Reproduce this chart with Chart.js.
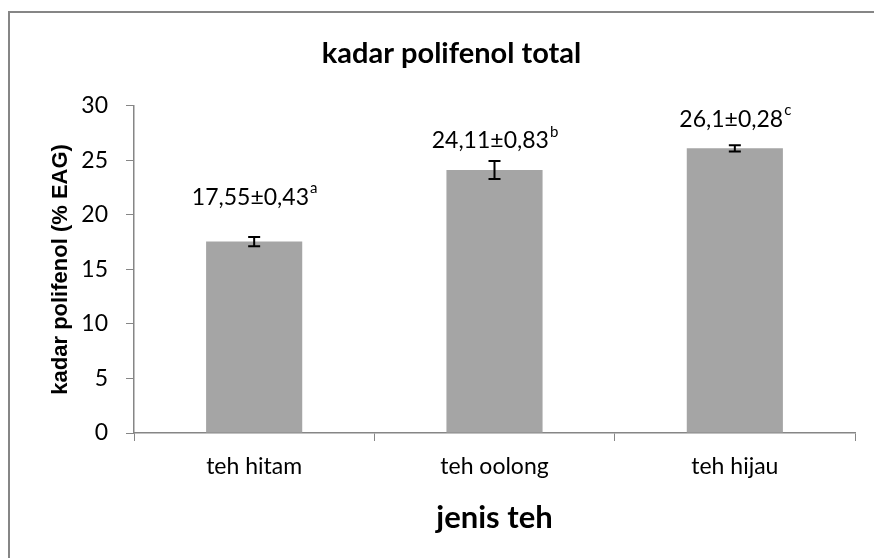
<!DOCTYPE html>
<html>
<head>
<meta charset="utf-8">
<script src="https://cdn.jsdelivr.net/npm/chart.js@4"></script>
<style>
html,body{margin:0;padding:0;background:#fff;}
#wrap{width:874px;height:558px;position:relative;}
</style>
</head>
<body>
<div id="wrap"><canvas id="chart" width="874" height="558"></canvas></div>
<script>

// data
const categories = ["teh hitam","teh oolong","teh hijau"]
const values = [17.55, 24.11, 26.1]
const errors = [0.43, 0.83, 0.28]
const labelText = ["17,55±0,43","24,11±0,83","26,1±0,28"]
const labelSup = ["a","b","c"]
const yTicks = [0,5,10,15,20,25,30]

// label lift above bar top (px)
const labelLift = [44, 29, 29]

const axisGray = "#868686"

/* frame round the whole chart */
const framePlugin = {
id:"frame",
beforeDraw(chart){
const c = chart.ctx
c.save()
c.fillStyle = "#fff"
c.fillRect(0,0,chart.width,chart.height)
c.strokeStyle = axisGray
c.lineWidth = 2
c.strokeRect(9,12,chart.width+10,chart.height+10)
c.restore()
}
}

/* error bars */
const errorPlugin = {
id:"errBars",
afterDatasetsDraw(chart){
const c = chart.ctx
const meta = chart.getDatasetMeta(0)
const y = chart.scales.y
c.save()
c.strokeStyle = "#000"
c.lineWidth = 2
meta.data.forEach((bar,i)=>{
const x = bar.x
const top = y.getPixelForValue(values[i]+errors[i])
const bot = y.getPixelForValue(values[i]-errors[i])
c.beginPath()
c.moveTo(x,top); c.lineTo(x,bot)
c.moveTo(x-6,top); c.lineTo(x+6,top)
c.moveTo(x-6,bot); c.lineTo(x+6,bot)
c.stroke()
})
c.restore()
}
}

/* value labels with superscript letters */
const labelPlugin = {
id:"valLabels",
afterDatasetsDraw(chart){
const c = chart.ctx
const meta = chart.getDatasetMeta(0)
const y = chart.scales.y
c.save()
c.fillStyle = "#000"
c.textBaseline = "middle"
meta.data.forEach((bar,i)=>{
const mainFont = "23px Lato"
const supFont = "15px Lato"
c.font = mainFont
const w1 = c.measureText(labelText[i]).width
c.font = supFont
const w2 = c.measureText(labelSup[i]).width
const yy = y.getPixelForValue(values[i]) - labelLift[i]
let x0 = bar.x - (w1+w2)/2
c.textAlign = "left"
c.font = mainFont
c.fillText(labelText[i], x0, yy)
c.font = supFont
c.fillText(labelSup[i], x0+w1+1, yy-9)
})
c.restore()
}
}

new Chart(document.getElementById("chart"),{

type:"bar",

data:{
labels:categories,
datasets:[{
data:values,
backgroundColor:"#a5a5a5",
categoryPercentage:0.4,
barPercentage:1
}]
},

options:{
responsive:false,
animation:false,
layout:{padding:{left:48,right:19,top:36,bottom:21}},
plugins:{
legend:{display:false},
tooltip:{enabled:false},
title:{
display:true,
text:"kadar polifenol total",
color:"#000",
font:{family:"Lato",size:29,weight:"bold"},
padding:{top:0,bottom:35}
}
},
scales:{
x:{
afterFit(axis){ axis.height = 104 },
grid:{drawOnChartArea:false,drawTicks:true,tickLength:8,color:axisGray,offset:true},
border:{color:axisGray,width:1.5},
ticks:{color:"#000",font:{family:"Lato",size:23},padding:12},
title:{display:true,text:"jenis teh",color:"#000",font:{family:"Lato",size:31,weight:"bold"},padding:{top:18,bottom:0}}
},
y:{
min:0,
max:30,
afterBuildTicks(axis){ axis.ticks = yTicks.map(v=>({value:v})) },
afterFit(axis){ axis.width = 86 },
grid:{drawOnChartArea:false,drawTicks:true,tickLength:8,color:axisGray},
border:{color:axisGray,width:1.5},
ticks:{color:"#000",font:{family:"Lato",size:23},padding:18},
title:{display:true,text:"kadar polifenol (% EAG)",color:"#000",font:{family:"Liberation Sans",size:22,weight:"bold"},padding:{top:0,bottom:0}}
}
}
},

plugins:[framePlugin,errorPlugin,labelPlugin]

})

</script>
</body>
</html>
